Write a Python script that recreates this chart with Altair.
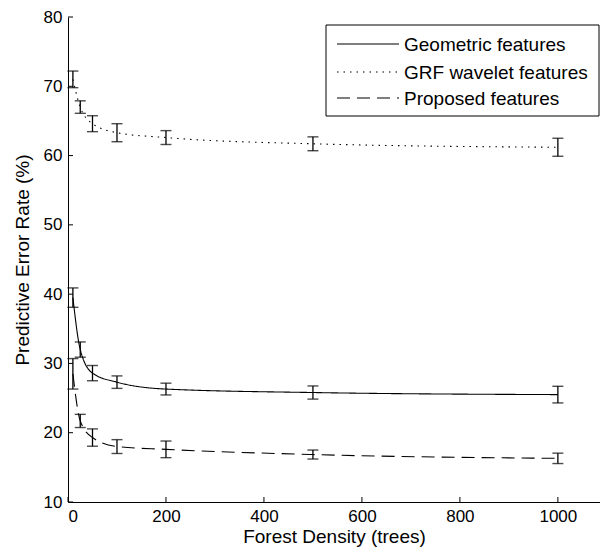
import altair as alt
import pandas as pd

density = [10, 25, 50, 100, 200, 500, 1000]
series_names = ["Geometric features", "GRF wavelet features", "Proposed features"]

geometric_mean = [39.5, 32.0, 28.6, 27.3, 26.3, 25.8, 25.5]
geometric_err = [1.4, 1.1, 1.1, 0.9, 0.85, 0.95, 1.2]
grf_mean = [71.0, 67.0, 64.6, 63.3, 62.6, 61.7, 61.2]
grf_err = [1.2, 0.9, 1.15, 1.3, 1.0, 1.0, 1.3]
proposed_mean = [28.5, 21.7, 19.3, 18.0, 17.6, 16.85, 16.3]
proposed_err = [2.2, 0.95, 1.25, 1.0, 1.2, 0.65, 0.75]

x_ticks = [0, 200, 400, 600, 800, 1000]
y_ticks = [10, 20, 30, 40, 50, 60, 70, 80]

rows = []
for name, means, errs in zip(series_names,
                             [geometric_mean, grf_mean, proposed_mean],
                             [geometric_err, grf_err, proposed_err]):
    for x, m, e in zip(density, means, errs):
        rows.append({"density": x, "series": name, "rate": m, "lo": m - e, "hi": m + e})
df = pd.DataFrame(rows)

FONT = "Liberation Sans"
x_scale = alt.Scale(domain=[0, 1086], nice=False)
y_scale = alt.Scale(domain=[10, 80], nice=False)
dash_scale = alt.Scale(domain=series_names, range=[[1, 0], [1.5, 5], [13, 7]])
x_axis = alt.Axis(values=x_ticks, format="d", title="Forest Density (trees)",
                  titlePadding=3, labelPadding=6)
y_axis = alt.Axis(values=y_ticks, title="Predictive Error Rate (%)", titlePadding=11, labelPadding=6)


def X(field):
    return alt.X(field, scale=x_scale, axis=x_axis, title="Forest Density (trees)")


def Y(field):
    return alt.Y(field, scale=y_scale, axis=y_axis, title="Predictive Error Rate (%)")


base = alt.Chart(df)

lines = base.mark_line(interpolate="monotone", color="black", strokeWidth=1.1).encode(
    x=X("density:Q"),
    y=Y("rate:Q"),
    strokeDash=alt.StrokeDash("series:N", scale=dash_scale, legend=None),
    detail="series:N",
)

bars = base.mark_rule(color="black", strokeWidth=1.3).encode(
    x=X("density:Q"),
    y=Y("lo:Q"),
    y2="hi:Q",
)
caps_lo = base.mark_tick(color="black", orient="horizontal", size=11, thickness=1.4).encode(
    x=X("density:Q"),
    y=Y("lo:Q"),
)
caps_hi = base.mark_tick(color="black", orient="horizontal", size=11, thickness=1.4).encode(
    x=X("density:Q"),
    y=Y("hi:Q"),
)

ytick_df = pd.DataFrame({"v": y_ticks})
xtick_df = pd.DataFrame({"v": x_ticks})
yticks = alt.Chart(ytick_df).mark_rule(color="black", strokeWidth=1).encode(
    y=Y("v:Q"),
    x=alt.value(0), x2=alt.value(5),
)
xticks = alt.Chart(xtick_df).mark_rule(color="black", strokeWidth=1).encode(
    x=X("v:Q"),
    y=alt.value(485), y2=alt.value(480),
)

# legend (drawn as a boxed key in the upper right)
leg_df = pd.DataFrame({"series": series_names})
leg_box = alt.Chart(pd.DataFrame({"k": [0]})).mark_rect(
    fill="white", stroke="black", strokeWidth=1
).encode(x=alt.value(258), x2=alt.value(531), y=alt.value(8), y2=alt.value(99))

leg_layers = [leg_box]
row_y = [27, 55, 81]
for name, ry in zip(series_names, row_y):
    sub = alt.Chart(leg_df).transform_filter(alt.datum.series == name)
    leg_layers.append(
        sub.mark_rule(color="black", strokeWidth=1.1).encode(
            x=alt.value(269), x2=alt.value(331), y=alt.value(ry),
            strokeDash=alt.StrokeDash("series:N", scale=dash_scale, legend=None),
        )
    )
    leg_layers.append(
        sub.mark_text(align="left", baseline="middle", font=FONT, fontSize=19, color="black").encode(
            x=alt.value(336), y=alt.value(ry + 1), text="series:N",
        )
    )

chart = alt.layer(lines, bars, caps_lo, caps_hi, yticks, xticks, *leg_layers).properties(
    width=532, height=485,
    autosize=alt.AutoSizeParams(type="none"),
    padding={"left": 60, "top": 9, "right": 0, "bottom": 47},
).configure_view(stroke=None).configure_axis(
    grid=False, ticks=False, tickSize=0,
    domainColor="black", domainWidth=1,
    labelFont=FONT, labelFontSize=17, labelColor="black",
    titleFont=FONT, titleFontSize=19, titleFontWeight="normal", titleColor="black",
)

chart.save("out.html", embed_options={"renderer": "svg", "actions": False})
